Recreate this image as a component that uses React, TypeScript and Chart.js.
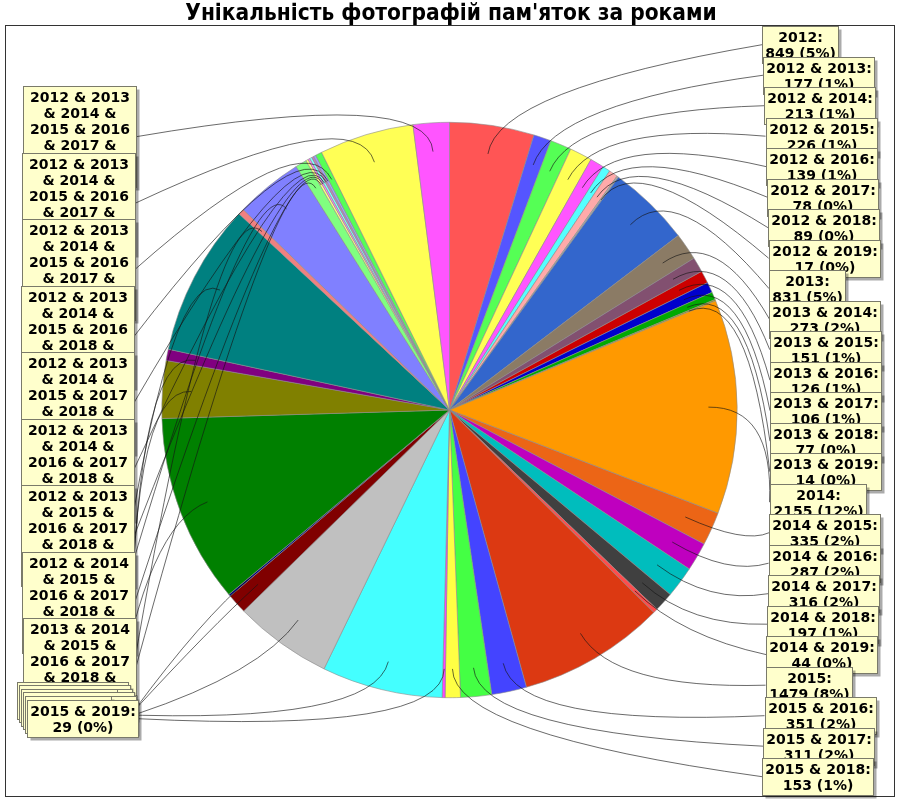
import React, { useEffect, useRef } from 'react';
import { Chart, registerables } from 'chart.js';

Chart.register(...registerables);

const TITLE = "Унікальність фотографій пам'яток за роками";

const categories: string[] = [
  '2012', '2012 & 2013', '2012 & 2014', '2012 & 2015', '2012 & 2016', '2012 & 2017', '2012 & 2018', '2012 & 2019',
  '2013', '2013 & 2014', '2013 & 2015', '2013 & 2016', '2013 & 2017', '2013 & 2018', '2013 & 2019',
  '2014', '2014 & 2015', '2014 & 2016', '2014 & 2017', '2014 & 2018', '2014 & 2019',
  '2015', '2015 & 2016', '2015 & 2017', '2015 & 2018', '2015 & 2019',
  '2016', '2016 & 2017', '2016 & 2018', '2016 & 2019',
  '2017', '2017 & 2018', '2017 & 2019',
  '2018', '2018 & 2019',
  '2019',
  '2013 & 2014 & 2015 & 2016 & 2017 & 2018 & 2019',
  '2012 & 2014 & 2015 & 2016 & 2017 & 2018 & 2019',
  '2012 & 2013 & 2015 & 2016 & 2017 & 2018 & 2019',
  '2012 & 2013 & 2014 & 2016 & 2017 & 2018 & 2019',
  '2012 & 2013 & 2014 & 2015 & 2017 & 2018 & 2019',
  '2012 & 2013 & 2014 & 2015 & 2016 & 2018 & 2019',
  '2012 & 2013 & 2014 & 2015 & 2016 & 2017 & 2019',
  '2012 & 2013 & 2014 & 2015 & 2016 & 2017 & 2018',
  '2012 & 2013 & 2014 & 2015 & 2016 & 2017 & 2018 & 2019',
];

const photoCounts: number[] = [
  849, 177, 213, 226, 139, 78, 89, 17,
  831, 273, 151, 126, 106, 77, 14,
  2155, 335, 287, 316, 197, 44,
  1479, 351, 311, 153, 29,
  1213, 985, 200, 20,
  1900, 577, 114,
  1530, 60,
  676,
  114, 24, 19, 23, 21, 23, 65, 950, 363,
];

const sliceColors: string[] = [
  '#FF5555', '#5555FF', '#55FF55', '#FFFF55', '#FF55FF', '#55FFFF', '#FFAAAA', '#AAAAAA',
  '#3366CC', '#8B7B65', '#825070', '#CC0000', '#0000CC', '#00AA00', '#999900',
  '#FF9900', '#EC6516', '#BF00BF', '#00BDBD', '#404040', '#FF4D4D',
  '#DC3912', '#4444FF', '#44FF44', '#FFFF44', '#FF44FF',
  '#44FFFF', '#C0C0C0', '#800000', '#000080',
  '#008000', '#808000', '#800080',
  '#008080', '#F08080',
  '#8080FF',
  '#80FF80', '#FFFF80', '#FF80FF', '#80FFFF', '#C080C0', '#A0A0FF', '#55FF55', '#FFFF55', '#FF55FF',
];

function wrapWords(text: string, width: number): string[] {
  const words = text.split(' ');
  const lines: string[] = [];
  let cur = '';
  for (const w of words) {
    if (!cur) cur = w;
    else if ((cur + ' ' + w).length <= width) cur += ' ' + w;
    else {
      lines.push(cur);
      cur = w;
    }
  }
  if (cur) lines.push(cur);
  return lines;
}

export default function App() {
  const ref = useRef<HTMLCanvasElement>(null);

  useEffect(() => {
    const canvas = ref.current;
    if (!canvas) return;
    const total = photoCounts.reduce((a, b) => a + b, 0);
    const LABEL_FONT = "bold 14px 'DejaVu Sans'";
    const LINE_H = 16;
    const PAD = 2.7;

    const calloutPlugin = {
      id: 'callouts',
      beforeDraw(chart: any) {
        const ctx: CanvasRenderingContext2D = chart.ctx;
        ctx.save();
        ctx.fillStyle = '#ffffff';
        ctx.fillRect(0, 0, chart.width, chart.height);
        ctx.strokeStyle = '#333333';
        ctx.lineWidth = 1;
        ctx.strokeRect(5.5, 25.5, 889, 771);
        ctx.fillStyle = '#000000';
        ctx.font = "bold 22.5px 'DejaVu Sans Condensed', 'DejaVu Sans'";
        try { (ctx as any).fontStretch = 'condensed'; } catch (e) { /* ignore */ }
        ctx.textAlign = 'center';
        ctx.textBaseline = 'alphabetic';
        ctx.fillText(TITLE, 451, 19.5);
        ctx.restore();
      },
      afterDatasetsDraw(chart: any) {
        const ctx: CanvasRenderingContext2D = chart.ctx;
        const meta = chart.getDatasetMeta(0);
        ctx.save();
        ctx.font = LABEL_FONT;
        const items = meta.data.map((arc: any, i: number) => {
          const p = arc.getProps(['x', 'y', 'startAngle', 'endAngle', 'outerRadius'], true);
          const mid = (p.startAngle + p.endAngle) / 2;
          const r = p.outerRadius * 0.9;
          const v = photoCounts[i];
          const pct = Math.round((v / total) * 100);
          const lines = [...wrapWords(categories[i] + ':', 12), `${v} (${pct}%)`];
          let tw = 0;
          for (const l of lines) tw = Math.max(tw, ctx.measureText(l).width);
          return {
            i,
            ax: p.x + r * Math.cos(mid),
            ay: p.y + r * Math.sin(mid),
            ux: Math.cos(mid),
            uy: Math.sin(mid),
            right: Math.cos(mid) >= 0,
            lines,
            w: tw + PAD * 2,
            h: lines.length * LINE_H + PAD * 2,
            bx: 0,
            by: 0,
            attachX: 0,
            attachY: 0,
          };
        });

        const rightItems = items.filter((it: any) => it.right);
        const leftItems = items.filter((it: any) => !it.right).reverse();

        rightItems.forEach((it: any, k: number) => {
          const top = 26 + k * 30.5;
          const ym = top + 17.5;
          const q = (ym - 410) / 390;
          it.bx = 761 + 9 * (1 - q * q);
          it.by = top;
          it.attachX = it.bx;
          it.attachY = top + it.h / 2;
        });

        const colCount = 9;
        const stackN = leftItems.length - colCount;
        leftItems.forEach((it: any, k: number) => {
          if (k < colCount) {
            const top = 86 + k * 66.5;
            const ym = top + 33;
            const q = (ym - 410) / 390;
            const w = Math.max(it.w, 113);
            it.w = w;
            const rightEdge = 134 + 4 * q * q;
            it.bx = rightEdge - w;
            it.by = top;
          } else {
            const s = k - colCount;
            if (s === stackN - 1) {
              it.bx = 27;
              it.by = 700;
            } else {
              const g = Math.floor((s * 5) / (stackN - 1));
              it.bx = 17 + g * 2;
              it.by = 682 + g * 3.4;
            }
          }
          it.attachX = it.bx + it.w;
          it.attachY = it.by + it.h / 2;
        });

        // leader lines
        ctx.strokeStyle = 'rgba(20,20,20,0.8)';
        ctx.lineWidth = 0.8;
        for (const it of items) {
          const L = 65;
          const cx = it.ax + it.ux * L;
          const cy = it.ay + it.uy * L;
          ctx.beginPath();
          ctx.moveTo(it.ax, it.ay);
          ctx.quadraticCurveTo(cx, cy, it.attachX, it.attachY);
          ctx.stroke();
        }

        const drawBox = (it: any) => {
          const x = Math.round(it.bx) + 0.5;
          const y = Math.round(it.by) + 0.5;
          const w = Math.round(it.w);
          const h = Math.round(it.h);
          ctx.fillStyle = 'rgba(0,0,0,0.33)';
          ctx.fillRect(x + 3, y + 3, w, h);
          ctx.fillStyle = '#FFFFCC';
          ctx.fillRect(x, y, w, h);
          ctx.strokeStyle = '#7a7a6a';
          ctx.lineWidth = 1;
          ctx.strokeRect(x, y, w, h);
          ctx.fillStyle = '#000000';
          ctx.font = LABEL_FONT;
          ctx.textAlign = 'center';
          ctx.textBaseline = 'alphabetic';
          it.lines.forEach((l: string, j: number) => {
            ctx.fillText(l, x + w / 2, y + PAD + 12.6 + j * LINE_H);
          });
        };
        rightItems.forEach(drawBox);
        leftItems.forEach(drawBox);
        ctx.restore();
      },
    };

    const chart = new Chart(canvas, {
      type: 'pie',
      data: {
        labels: categories,
        datasets: [
          {
            data: photoCounts,
            backgroundColor: sliceColors,
            borderColor: '#8c8c8c',
            borderWidth: 0.6,
          },
        ],
      },
      options: {
        responsive: false,
        animation: false,
        devicePixelRatio: 1,
        layout: { padding: { left: 161.5, right: 162.5, top: 122, bottom: 102 } },
        plugins: {
          legend: { display: false },
          tooltip: { enabled: false },
          title: { display: false },
        },
      },
      plugins: [calloutPlugin],
    } as any);

    return () => chart.destroy();
  }, []);

  return (
    <div style={{ position: 'absolute', left: 0, top: 0, width: 900, height: 800 }}>
      <canvas ref={ref} width={900} height={800} style={{ display: 'block' }} />
    </div>
  );
}
